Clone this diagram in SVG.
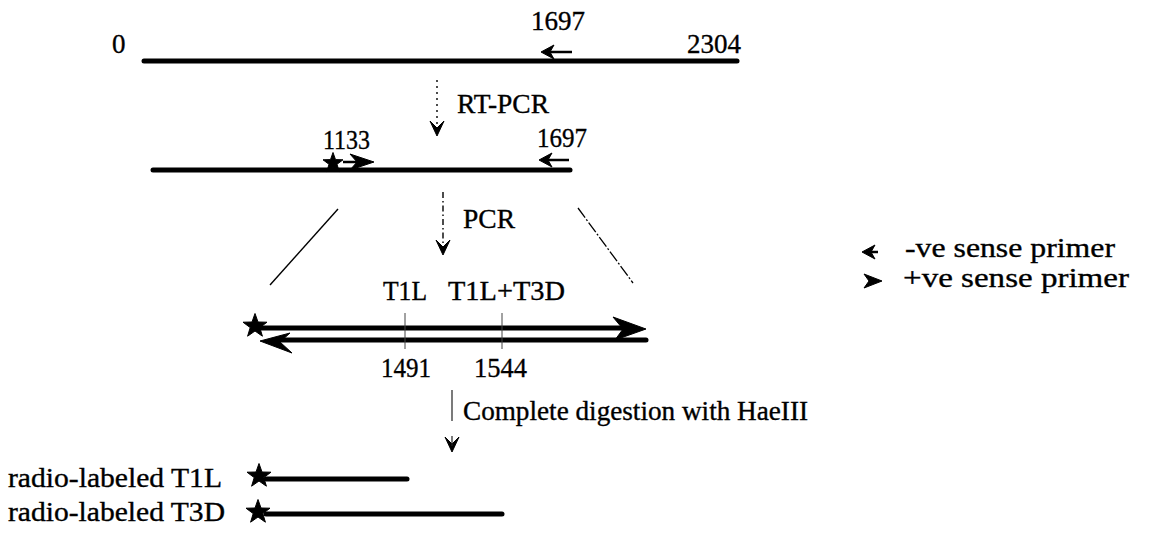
<svg xmlns="http://www.w3.org/2000/svg" width="1152" height="534" viewBox="0 0 1152 534">
<style>
text{font-family:"Liberation Serif","Times New Roman",serif;font-size:27px;fill:#000;stroke:#000;stroke-width:0.35}
.dna{stroke:#000;stroke-width:5;stroke-linecap:round;fill:none}
.thin{stroke:#000;stroke-width:1.4;fill:none}
.vline{stroke:#222;stroke-width:1.2;fill:none}
.dot{stroke:#000;stroke-width:1.4;stroke-dasharray:2 4;fill:none}
.dashdot{stroke:#000;stroke-width:1.4;stroke-dasharray:6 3 1.5 3;fill:none}
.diagdot{stroke:#000;stroke-width:1.3;stroke-dasharray:12 2 2 2;fill:none}
.tick{stroke:#444;stroke-width:1;fill:none}
.head{fill:#000;stroke:#000;stroke-width:1;stroke-linejoin:round}
.tail{stroke:#000;stroke-width:2.5;fill:none}
</style>
<defs>
<path id="star" d="M0,-10.5 L2.5,-3.4 L10,-3.2 L4,1.3 L6.2,8.5 L0,4.2 L-6.2,8.5 L-4,1.3 L-10,-3.2 L-2.5,-3.4 Z"/>
<path id="bigstar" d="M0,-12.5 L3,-4 L12,-3.8 L4.8,1.6 L7.4,10.2 L0,5 L-7.4,10.2 L-4.8,1.6 L-12,-3.8 L-3,-4 Z"/>
<path id="fwd" d="M0,0 L-24,-8 L-17,0 L-24,8 Z"/>
<path id="rev" d="M0,0 L13,-7 L9,0 L13,7 Z"/>
<path id="vhead" d="M0,0 L-7,-15 L0,-8 L7,-15 Z"/>
</defs>

<g id="full-transcript">
<line class="dna" x1="144" y1="61" x2="737" y2="61"/>
<text x="112" y="53">0</text>
<text x="531" y="30">1697</text>
<text x="687" y="53">2304</text>
<use href="#rev" x="541" y="52" class="head"/>
<line class="tail" x1="546" y1="52" x2="572" y2="52"/>
</g>

<g id="rt-pcr-product">
<line class="dna" x1="153" y1="170" x2="570" y2="170"/>
<text x="323" y="149" textLength="47" lengthAdjust="spacingAndGlyphs">1133</text>
<text x="537" y="147" textLength="50" lengthAdjust="spacingAndGlyphs">1697</text>
<use href="#star" x="333" y="163" class="head"/>
<line class="tail" x1="343" y1="162" x2="358" y2="162"/>
<use href="#fwd" x="374" y="162" class="head"/>
<use href="#rev" x="539" y="160" class="head"/>
<line class="tail" x1="544" y1="160" x2="569" y2="160"/>
</g>

<g id="pcr-product">
<text x="383" y="300" textLength="44" lengthAdjust="spacingAndGlyphs">T1L</text>
<text x="448" y="300" textLength="117" lengthAdjust="spacingAndGlyphs">T1L+T3D</text>
<line class="dna" x1="258" y1="328" x2="630" y2="328"/>
<path class="head" d="M646,329 L613,317 L623,329 L615,340 Z"/>
<use href="#bigstar" x="255" y="326" class="head"/>
<line class="dna" x1="275" y1="340" x2="646" y2="340"/>
<path class="head" d="M260,341 L290,333 L280,342 L292,353 Z"/>
<line class="tick" x1="405" y1="313" x2="405" y2="349"/>
<line class="tick" x1="502" y1="313" x2="502" y2="349"/>
<text x="381" y="377" textLength="50" lengthAdjust="spacingAndGlyphs">1491</text>
<text x="474" y="377" textLength="53" lengthAdjust="spacingAndGlyphs">1544</text>
</g>

<g id="legend">
<use href="#rev" x="862" y="252" class="head"/>
<line class="tail" x1="867" y1="252" x2="878" y2="252"/>
<text x="905" y="257" textLength="210" lengthAdjust="spacingAndGlyphs">-ve sense primer</text>
<path class="head" d="M882,281 L864,274 L869,281 L864,288 Z"/>
<text x="903" y="287" textLength="226" lengthAdjust="spacingAndGlyphs">+ve sense primer</text>
</g>

<g id="digestion-products">
<text x="8" y="487" textLength="214" lengthAdjust="spacingAndGlyphs">radio-labeled T1L</text>
<use href="#bigstar" x="259" y="476" class="head"/>
<line class="dna" x1="266" y1="479" x2="407" y2="479"/>
<text x="8" y="521" textLength="217" lengthAdjust="spacingAndGlyphs">radio-labeled T3D</text>
<use href="#bigstar" x="258" y="512" class="head"/>
<line class="dna" x1="266" y1="514" x2="502" y2="514"/>
</g>

<g id="connectors">
<line class="dot" x1="437" y1="80" x2="437" y2="127"/>
<use href="#vhead" x="437" y="136" class="head"/>
<text x="457" y="113" textLength="92" lengthAdjust="spacingAndGlyphs">RT-PCR</text>
<line class="dashdot" x1="443" y1="192" x2="443" y2="246"/>
<use href="#vhead" x="443" y="255" class="head"/>
<text x="463" y="228" textLength="52" lengthAdjust="spacingAndGlyphs">PCR</text>
<line class="thin" x1="338" y1="209" x2="270" y2="285"/>
<line class="diagdot" x1="578" y1="208" x2="633" y2="283"/>
<line class="vline" x1="452" y1="390" x2="452" y2="421"/>
<use href="#vhead" x="452" y="452" class="head"/>
<line class="vline" x1="452" y1="436" x2="452" y2="446"/>
<text x="463" y="420" textLength="345" lengthAdjust="spacingAndGlyphs">Complete digestion with HaeIII</text>
</g>
</svg>
